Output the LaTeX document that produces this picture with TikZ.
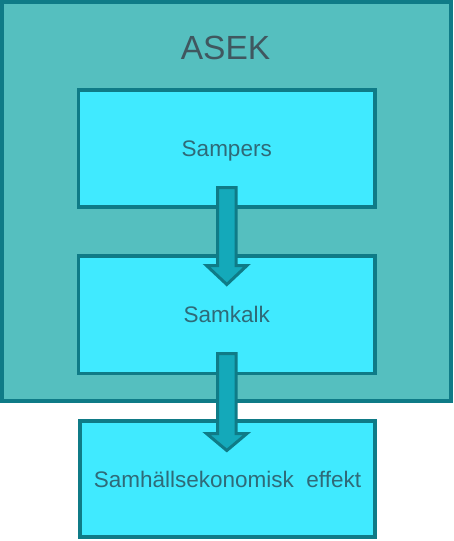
\documentclass[tikz,border=0pt]{standalone}
\usepackage{fontspec}
\setmainfont{Liberation Sans}
\definecolor{outerfill}{HTML}{55BFBF}
\definecolor{edgecol}{HTML}{0F7B87}
\definecolor{boxfill}{HTML}{40EAFF}
\definecolor{arrowfill}{HTML}{14A9BA}
\definecolor{boxtext}{HTML}{2F6A78}
\definecolor{titletext}{HTML}{40575F}
\begin{document}
\begin{tikzpicture}[x=1pt,y=-1pt,
  outerbox/.style={draw=edgecol,fill=outerfill,line width=3.5pt},
  procbox/.style={draw=edgecol,fill=boxfill,line width=3.5pt,rectangle,inner sep=0pt,
    text=boxtext,font=\fontsize{22.5}{26}\selectfont,text height=16.1pt,text depth=0pt},
  blockarrow/.style={draw=edgecol,fill=arrowfill,line width=3pt,line join=miter}]
\useasboundingbox (0,0) rectangle (453,541);
\draw[outerbox] (2,2) rectangle (451,401);
\node[text=titletext,font=\fontsize{33.5}{38}\selectfont] (title) at (225.5,48) {ASEK};
\node[procbox,minimum width=296.5pt,minimum height=117pt] (sampers) at (226.75,148.5) {Sampers};
\node[procbox,minimum width=296.5pt,minimum height=117.5pt] (samkalk) at (226.75,314.75) {Samkalk};
\node[procbox,minimum width=295pt,minimum height=116pt] (effekt) at (227.5,479) {Samhällsekonomisk\ \ effekt};
% block arrows
\draw[blockarrow] (217.5,187.5) -- (236,187.5) -- (236,265.5) -- (247,265.5) -- (226.8,284.5) -- (206.5,265.5) -- (217.5,265.5) -- cycle;
\draw[blockarrow] (217.5,353.5) -- (236,353.5) -- (236,433.5) -- (247,433.5) -- (226.8,450.5) -- (206.5,433.5) -- (217.5,433.5) -- cycle;
\end{tikzpicture}
\end{document}
